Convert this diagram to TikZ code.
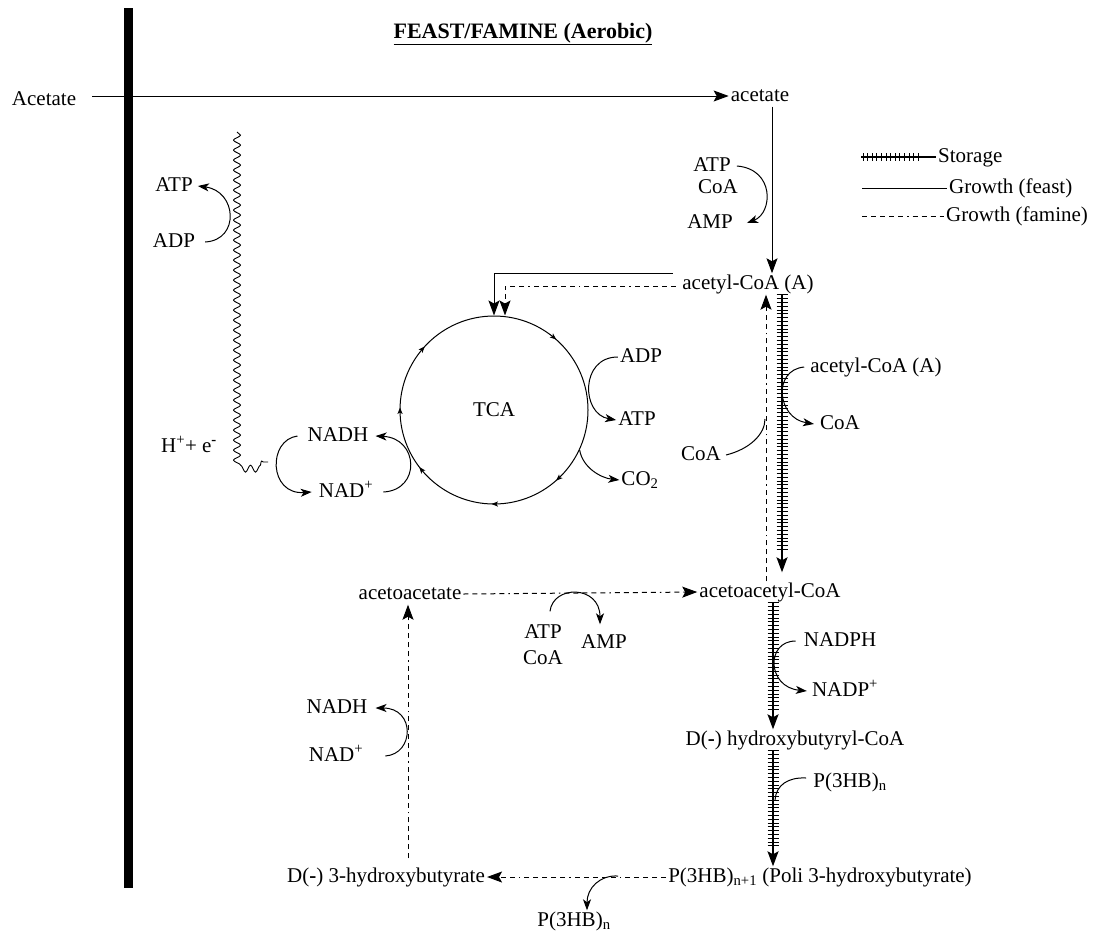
\documentclass[tikz,border=0pt]{standalone}
\usepackage{fontspec}
\setmainfont{Liberation Serif}
\usetikzlibrary{arrows.meta,decorations.markings,decorations.pathmorphing}
\tikzset{
 lbl/.style={inner sep=2pt, font=\fontsize{21}{25}\selectfont, text height=14pt, text depth=3pt},
 feast/.style={line width=1pt},
 famine/.style={line width=1pt, dash pattern=on 5pt off 4pt on 5pt off 4pt on 5pt off 4pt on 5pt off 4pt on 5pt off 4pt on 1.5pt off 4pt},
 bigtip/.style={-{Stealth[length=15pt,width=11pt,inset=3pt]}},
 smalltip/.style={-{Stealth[length=11pt,width=8pt,inset=3pt]}},
 curve/.style={line width=1pt},
 storage/.style={line width=1.5pt, postaction={decorate}, decoration={markings, mark=between positions 0 and -20pt step 3.8pt with {\draw[line width=0.8pt,solid,-] (0,-5.5pt) -- (0,5.5pt);}}},
 storageleg/.style={line width=1.3pt, postaction={decorate}, decoration={markings, mark=between positions 2pt and -16pt step 4.6pt with {\draw[line width=0.8pt,solid,-] (0,-3.8pt) -- (0,3.8pt);}}},
 wave/.style={line width=0.9pt, decorate, decoration={snake, segment length=10pt, amplitude=3.5pt}},
 cyc/.style={decorate, decoration={markings,
   mark=at position 0.131 with {\fill (2.5pt,0) -- (-4pt,2.6pt) -- (-2.5pt,0) -- (-4pt,-2.6pt) -- cycle;},
   mark=at position 0.25 with {\fill (2.5pt,0) -- (-4pt,2.6pt) -- (-2.5pt,0) -- (-4pt,-2.6pt) -- cycle;},
   mark=at position 0.392 with {\fill (2.5pt,0) -- (-4pt,2.6pt) -- (-2.5pt,0) -- (-4pt,-2.6pt) -- cycle;},
   mark=at position 0.5 with {\fill (2.5pt,0) -- (-4pt,2.6pt) -- (-2.5pt,0) -- (-4pt,-2.6pt) -- cycle;},
   mark=at position 0.614 with {\fill (2.5pt,0) -- (-4pt,2.6pt) -- (-2.5pt,0) -- (-4pt,-2.6pt) -- cycle;},
   mark=at position 0.861 with {\fill (2.5pt,0) -- (-4pt,2.6pt) -- (-2.5pt,0) -- (-4pt,-2.6pt) -- cycle;}}}
}
\begin{document}
\begin{tikzpicture}[x=1pt,y=1pt]
\useasboundingbox (0,0) rectangle (1105,-940);
% membrane
\draw[line width=9pt] (128,-8) -- (128,-888);
% coordinates
\coordinate (vx) at (772,0);
\coordinate (sx) at (782,0);
\coordinate (dx) at (766,0);
\coordinate (s2x) at (773,0);
\coordinate (dvx) at (408,0);
\coordinate (w1) at (237,-132);
\coordinate (w2) at (237,-462);
\coordinate (w3) at (268,-462);
\coordinate (cj) at (765,-419);
\coordinate (pj) at (775,-800);
\coordinate (bj) at (618,-876);
\coordinate (ls) at (861,-157);
\coordinate (lf) at (862,-188);
\coordinate (lm) at (862,-216);
% nodes
\node[lbl, font=\bfseries\fontsize{22}{26}\selectfont] (title) at (523,-33) {\underline{FEAST/FAMINE (Aerobic)}};
\node[lbl] (Acet) at (44,-100) {Acetate};
\node[lbl] (acet) at (760,-96) {acetate};
\node[lbl] (ATPa) at (712,-166) {ATP};
\node[lbl] (CoAa) at (718,-188) {CoA};
\node[lbl] (AMPa) at (710,-223) {AMP};
\node[lbl, anchor=west] (lstore) at (936,-157) {Storage};
\node[lbl, anchor=west] (lfeast) at (947,-188) {Growth (feast)};
\node[lbl, anchor=west] (lfam) at (944,-216) {Growth (famine)};
\node[lbl] (acetylA) at (748,-284) {acetyl-CoA (A)};
\node[circle, draw, line width=1pt, minimum size=188pt, inner sep=0pt, font=\fontsize{21}{25}\selectfont] (tca) at (494,-410) {TCA};
\node[lbl] (ADPr) at (641,-357) {ADP};
\node[lbl] (ATPr) at (637,-420) {ATP};
\node[lbl] (CO2r) at (640,-480) {CO\textsubscript{2}};
\node[lbl] (NADHl) at (338,-436) {NADH};
\node[lbl] (NADl) at (346,-492) {NAD\textsuperscript{+}};
\node[lbl] (Hplus) at (189,-447) {H\textsuperscript{+}+ e\textsuperscript{\textbf{-}}};
\node[lbl] (ATPl) at (174,-186) {ATP};
\node[lbl] (ADPl) at (174,-242) {ADP};
\node[lbl] (acetylB) at (876,-367) {acetyl-CoA (A)};
\node[lbl] (CoAB) at (840,-424) {CoA};
\node[lbl] (CoAL) at (701,-455) {CoA};
\node[lbl] (aacoa) at (770,-592) {acetoacetyl-CoA};
\node[lbl] (aac) at (410,-594) {acetoacetate};
\node[lbl] (ATPm) at (543,-633) {ATP};
\node[lbl] (CoAm) at (543,-659) {CoA};
\node[lbl] (AMPm) at (604,-643) {AMP};
\node[lbl] (NADHb) at (337,-708) {NADH};
\node[lbl] (NADb) at (336,-756) {NAD\textsuperscript{+}};
\node[lbl] (NADPH) at (840,-641) {NADPH};
\node[lbl] (NADPp) at (845,-691) {NADP\textsuperscript{+}};
\node[lbl] (hbcoa) at (795,-740) {D(\textbf{-}) hydroxybutyryl-CoA};
\node[lbl] (p3hbu) at (850,-782) {P(3HB)\textsubscript{n}};
\node[lbl] (pbig) at (820,-877) {P(3HB)\textsubscript{n+1} (Poli 3-hydroxybutyrate)};
\node[lbl] (d3hb) at (386,-877) {D(\textbf{-}) 3-hydroxybutyrate};
\node[lbl] (p3hbl) at (574,-921) {P(3HB)\textsubscript{n}};
\coordinate (aatop) at ([yshift=9pt]aacoa.north);
% legend
\draw[storageleg] (ls) -- (lstore.west);
\draw[feast] (lf) -- (lfeast.west);
\draw[famine] (lm) -- (lfam.west);
% acetate uptake
\draw[feast,bigtip] ([xshift=14pt]Acet.east |- acet.west) -- (acet.west);
\draw[feast,bigtip] (acet.south -| vx) -- (acetylA.north -| vx);
\draw[curve,smalltip] ([xshift=4pt]ATPa.east) .. controls +(38,-3) and +(26,10) .. ([xshift=12pt]AMPa.east);
% to TCA
\draw[feast,bigtip] ([shift={(-7.5pt,11pt)}]acetylA.west) -| (tca.north);
\draw[famine,bigtip] ([shift={(-4.5pt,-2pt)}]acetylA.west) -| ([xshift=11pt]tca.north);
\path[cyc] ([shift={(94pt,0pt)}]tca.center) arc[start angle=0, end angle=-360, radius=94pt];
\draw[curve,smalltip] (ADPr.west) .. controls +(-38,0) and +(-35,6) .. (ATPr.west);
\draw[curve,smalltip] (tca.-25) .. controls +(3,-18) and +(-18,2) .. (CO2r.west);
\draw[curve,smalltip] ([xshift=8pt]NADl.east) .. controls +(38,2) and +(43,-2) .. ([xshift=5pt]NADHl.east);
\draw[curve,smalltip] ([xshift=-8pt]NADHl.west) .. controls +(-30,-4) and +(-43,-3) .. ([xshift=-5pt]NADl.west);
% respiration
\draw[wave] (w1) -- (w2) -- (w3);
\draw[curve,smalltip] ([xshift=8pt]ADPl.east) .. controls +(35,2) and +(39,-5) .. ([xshift=3pt]ATPl.east);
% storage path
\draw[storage,bigtip] (acetylA.south -| sx) -- (aatop -| sx);
\draw[famine,bigtip] (aacoa.north -| dx) -- (acetylA.south -| dx);
\draw[curve,smalltip] ([xshift=-4pt]acetylB.west) .. controls +(-32,-3) and +(-37,6) .. ([xshift=-4pt]CoAB.west);
\draw[curve] ([xshift=3pt]CoAL.east) .. controls +(24,6) and +(0,-15) .. (cj);
\draw[storage,bigtip] (aacoa.south -| s2x) -- (hbcoa.north -| s2x);
\draw[curve,smalltip] ([xshift=-6pt]NADPH.west) .. controls +(-30,0) and +(-40,4) .. ([xshift=-3pt]NADPp.west);
\draw[storage,bigtip] (hbcoa.south -| s2x) -- (pbig.north -| s2x);
\draw[curve] ([shift={(-5pt,4pt)}]p3hbu.west) .. controls +(-18,1) and +(1,15) .. (pj);
% famine degradation
\draw[famine,bigtip] (pbig.west) -- (d3hb.east);
\draw[curve,smalltip] (bj) .. controls +(-18,1) and +(0,22.5) .. ([xshift=13pt]p3hbl.north);
\draw[famine,bigtip,shorten <=8pt] (d3hb.north -| dvx) -- (aac.south -| dvx);
\draw[curve,smalltip] ([xshift=20pt]NADb.east) .. controls +(29,2) and +(40,0) .. ([xshift=6pt]NADHb.east);
\draw[famine,bigtip] (aac.east) -- (aacoa.west);
\draw[curve,smalltip] ([shift={(7pt,11pt)}]ATPm.north) .. controls +(3,26.5) and +(0,39.5) .. ([shift={(-4pt,8pt)}]AMPm.north);
\end{tikzpicture}
\end{document}
